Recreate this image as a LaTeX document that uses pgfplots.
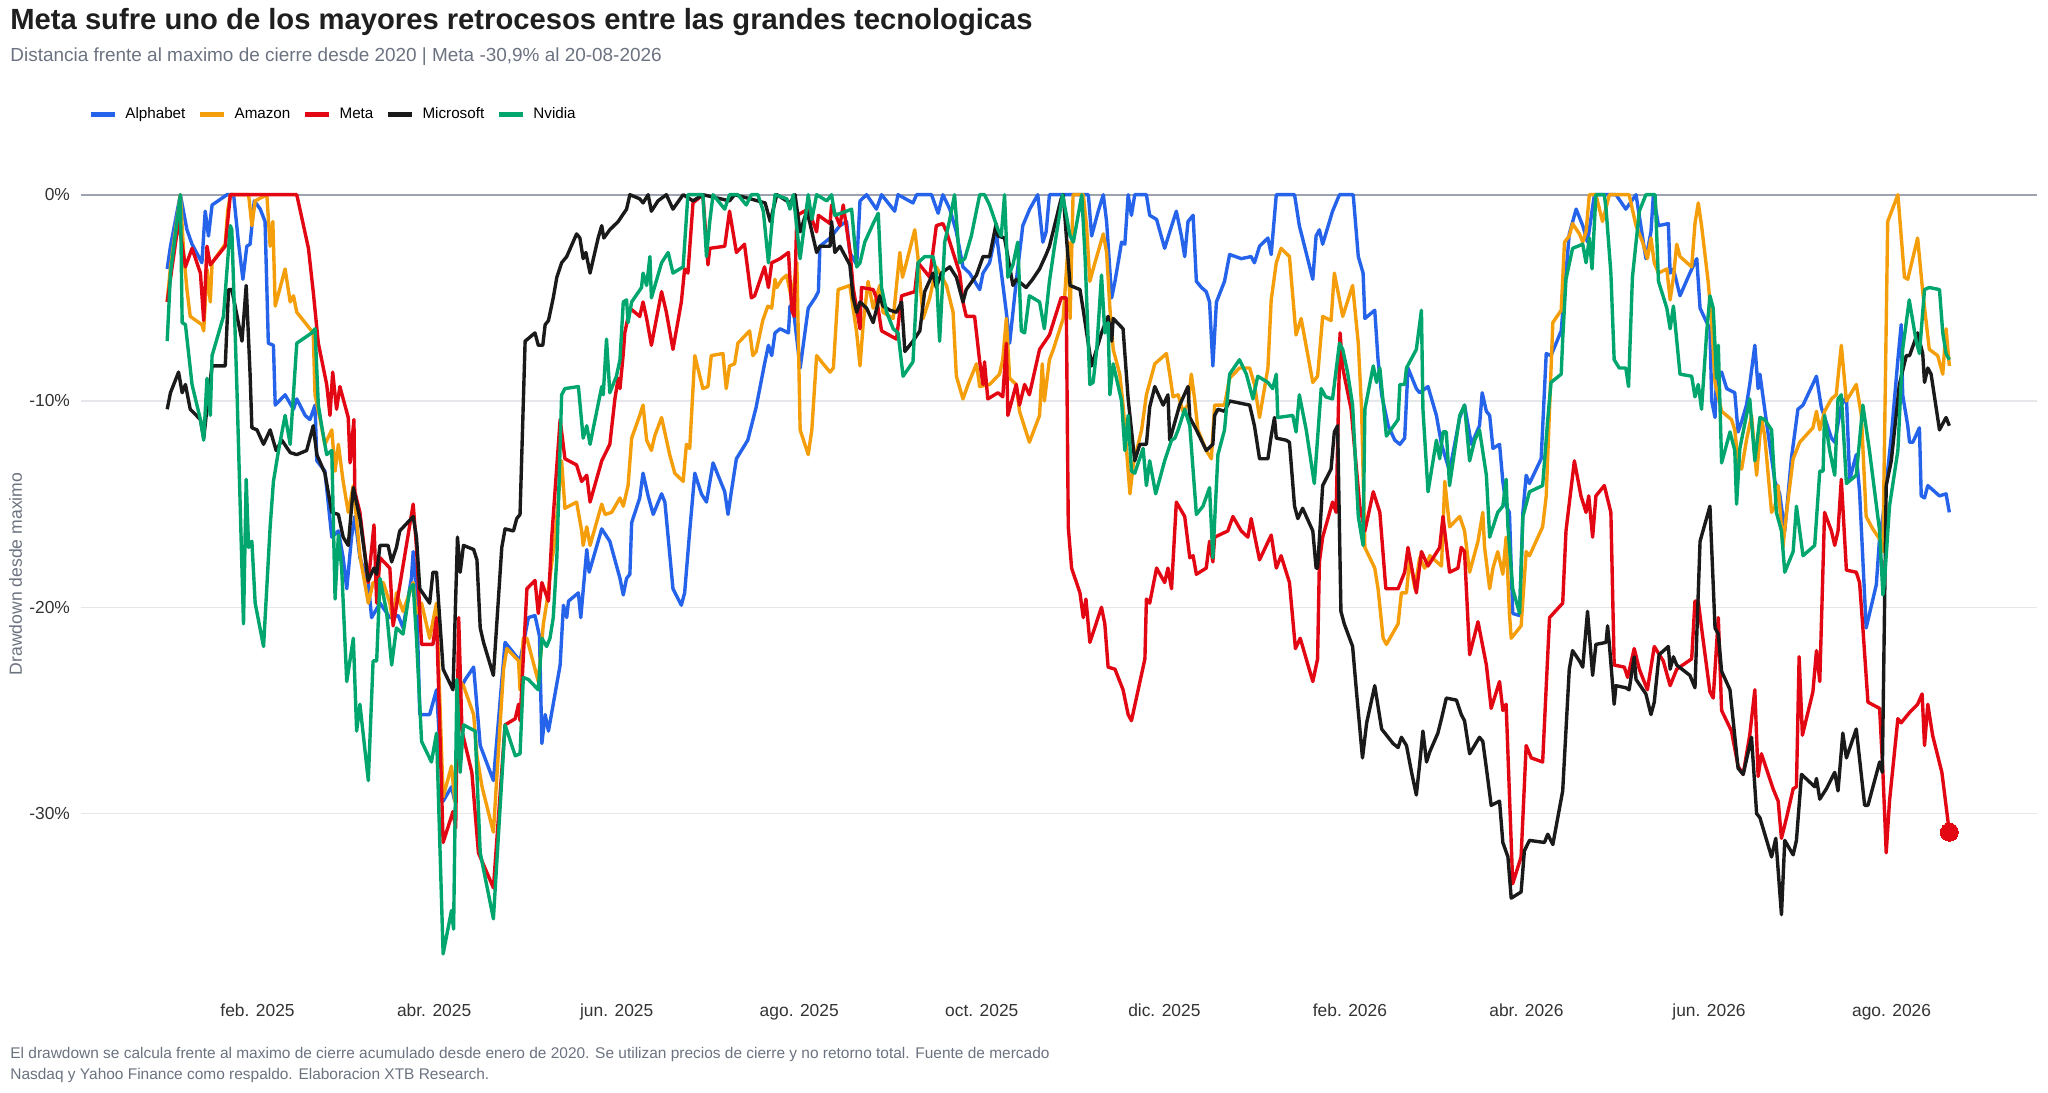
\documentclass[border=0pt]{standalone}
\usepackage{pgfplots}
\pgfplotsset{compat=1.18}
\usepackage{fontspec}
\setmainfont{Liberation Sans}
\definecolor{cAlph}{RGB}{37,99,235}
\definecolor{cAmzn}{RGB}{245,158,11}
\definecolor{cMeta}{RGB}{227,6,19}
\definecolor{cMsft}{RGB}{26,26,26}
\definecolor{cNvda}{RGB}{0,166,110}
\definecolor{cGrid}{RGB}{229,231,235}
\definecolor{cZero}{RGB}{156,163,175}
\definecolor{cSub}{RGB}{107,114,128}
\definecolor{cTitle}{RGB}{31,31,31}
\definecolor{cTick}{RGB}{51,51,51}
\begin{document}
\begin{tikzpicture}
\useasboundingbox (0,0) rectangle (1024pt,546pt);
\node[anchor=base west, inner sep=0pt, font=\fontsize{14.6}{17}\selectfont\bfseries, text=cTitle] at (5pt,531pt) {Meta sufre uno de los mayores retrocesos entre las grandes tecnologicas};
\node[anchor=base west, inner sep=0pt, font=\fontsize{9.47}{11}\selectfont, text=cSub] at (5pt,515pt) {Distancia frente al maximo de cierre desde 2020 | Meta -30,9\% al 20-08-2026};
\node[anchor=base west, inner sep=0pt, font=\fontsize{7.73}{9}\selectfont, text=cSub] at (5pt,17pt) {El drawdown se calcula frente al maximo de cierre acumulado desde enero de 2020. Se utilizan precios de cierre y no retorno total. Fuente de mercado};
\node[anchor=base west, inner sep=0pt, font=\fontsize{7.73}{9}\selectfont, text=cSub] at (5pt,6.5pt) {Nasdaq y Yahoo Finance como respaldo. Elaboracion XTB Research.};
\node[rotate=90, inner sep=0pt, font=\fontsize{8.8}{10}\selectfont, text=cSub] at (7.8pt,259pt) {Drawdown desde maximo};
\begin{axis}[
  at={(40.5pt,50.5pt)}, anchor=south west,
  width=978pt, height=406.4pt, scale only axis,
  xmin=-28, xmax=625.6, ymin=-38.6, ymax=0.8,
  axis line style={draw=none},
  major tick length=0pt,
  xtick={31,90,151,212,273,334,396,455,516,577},
  xticklabels={feb. 2025,abr. 2025,jun. 2025,ago. 2025,oct. 2025,dic. 2025,feb. 2026,abr. 2026,jun. 2026,ago. 2026},
  ytick={-30,-20,-10},
  yticklabels={-30\%,-20\%,-10\%},
  extra y ticks={0}, extra y tick labels={0\%},
  extra y tick style={ymajorgrids=true, major grid style={cZero, line width=1pt}},
  ymajorgrids, major grid style={cGrid, line width=0.6pt},
  tick label style={font=\fontsize{8.7}{10}\selectfont, text=cTick},
  xticklabel style={yshift=-3pt},
  yticklabel style={xshift=-2pt},
  legend columns=5,
  legend style={at={(axis description cs:0.0037,1.078)}, anchor=west, draw=none, fill=none,
    font=\fontsize{7.6}{9}\selectfont, inner sep=0pt, nodes={inner sep=0pt},
    /tikz/every odd column/.append style={column sep=4pt},
    /tikz/every even column/.append style={column sep=6.2pt}},
  legend image code/.code={\draw[#1, line width=2.4pt] (0pt,0pt) -- (12pt,0pt);},
  every axis plot/.append style={line width=1.7pt, line join=round, mark=none},
]
% Alphabet
\addplot[cAlph] coordinates {(0.8,-3.6)(1.9,-2.5)(5.2,0)(7.4,-1.7)(9.1,-2.4)(12.4,-3.3)(13.5,-0.8)(14.6,-2.0)(15.8,-0.5)(20.8,0)(23.0,0)(24.6,-2.3)(26.1,-4.1)(27.4,-2.5)(28.5,-2.4)(29.9,-0.3)(31.9,-0.7)(33.5,-1.3)(34.6,-7.2)(36.3,-7.3)(36.9,-10.2)(40.2,-9.7)(43.0,-10.4)(44.1,-9.9)(46.9,-10.7)(48.5,-10.9)(50.2,-10.2)(50.8,-12.9)(53.5,-13.4)(55.8,-16.6)(58.0,-16.3)(59.6,-17.6)(60.8,-19.1)(62.4,-16.6)(63.5,-15.6)(65.2,-17.6)(68.0,-18.8)(69.1,-20.5)(71.9,-19.8)(75.2,-20.5)(78.0,-20.4)(79.6,-21.0)(82.4,-18.6)(83.0,-17.3)(84.1,-19.3)(85.2,-25.2)(88.5,-25.2)(90.8,-24.0)(93.0,-29.4)(95.8,-28.7)(96.9,-29.4)(98.7,-24.0)(100.4,-23.5)(103.2,-22.9)(105.4,-26.7)(109.8,-28.4)(113.7,-21.7)(118.7,-22.6)(121.5,-20.5)(123.7,-20.4)(125.2,-21.4)(126.0,-26.6)(127.1,-25.2)(128.2,-26.0)(132.1,-22.8)(133.2,-19.9)(134.3,-20.5)(134.9,-19.7)(138.2,-19.3)(139.0,-20.5)(141.0,-17.2)(141.8,-18.3)(146.0,-16.2)(148.7,-16.8)(152.1,-18.6)(153.2,-19.4)(154.3,-18.6)(155.4,-18.4)(156.0,-15.9)(158.7,-14.7)(159.8,-13.5)(161.5,-14.6)(163.2,-15.5)(166.0,-14.5)(167.1,-14.9)(169.8,-19.1)(172.6,-19.9)(173.7,-19.3)(175.4,-16.3)(177.1,-13.5)(179.3,-14.5)(181.0,-14.9)(183.2,-13.0)(187.1,-14.4)(188.2,-15.5)(189.3,-14.4)(191.0,-12.8)(194.8,-11.9)(197.6,-10.3)(200.4,-8.2)(201.7,-7.3)(202.8,-7.8)(203.9,-6.7)(205.6,-6.5)(208.4,-6.7)(208.9,-5.4)(210.0,-5.5)(212.3,-8.4)(215.0,-5.5)(217.3,-5.0)(218.4,-4.7)(218.9,-2.5)(222.3,-2.1)(225.6,-1.5)(227.8,-1.3)(228.9,-2.8)(231.2,-3.4)(232.3,-0.3)(234.5,0)(237.8,-0.7)(239.5,0)(243.9,-0.8)(245.0,0)(250.0,-0.4)(251.2,0)(256.2,0)(258.4,-0.9)(260.0,0)(262.3,-0.7)(264.5,-1.8)(266.7,-3.5)(268.9,-3.8)(272.3,-4.6)(273.4,-3.8)(275.6,-3.3)(277.8,-1.8)(281.2,-5.7)(282.3,-7.2)(284.5,-4.2)(286.7,-1.5)(289.0,-0.7)(291.7,0)(293.4,-2.3)(294.5,-1.8)(295.6,0)(308.6,0)(309.7,-2.0)(311.9,-0.8)(313.6,0)(314.7,-1.3)(316.4,-5.0)(317.5,-4.2)(319.7,-2.3)(320.8,-2.4)(321.9,0)(323.0,-1.0)(324.1,0)(328.0,0)(329.1,-1.0)(331.4,-1.2)(334.1,-2.6)(335.8,-1.8)(338.0,-0.8)(339.7,-2.0)(340.8,-3.0)(341.9,-1.3)(343.6,-1.0)(344.7,-4.2)(346.4,-4.5)(348.0,-4.7)(349.1,-5.2)(350.2,-8.3)(351.4,-5.2)(354.1,-4.2)(355.8,-2.9)(359.7,-3.1)(363.0,-3.0)(364.1,-3.3)(365.8,-2.5)(368.6,-2.1)(369.7,-2.9)(371.4,0)(377.5,0)(379.1,-1.5)(383.6,-4.1)(384.7,-2.0)(385.8,-1.7)(386.9,-2.4)(390.2,-0.8)(392.5,0)(397.1,0)(398.8,-3.0)(400.4,-3.8)(401.0,-6.0)(404.3,-5.6)(405.4,-8.0)(406.6,-9.7)(408.8,-11.2)(411.0,-11.9)(412.7,-12.1)(414.3,-11.8)(415.4,-8.4)(418.2,-9.4)(419.3,-9.6)(422.1,-9.3)(424.9,-10.7)(426.6,-12.1)(429.3,-13.4)(432.7,-10.8)(434.3,-10.2)(436.6,-12.1)(439.3,-11.2)(440.2,-9.6)(441.6,-10.5)(442.7,-10.7)(443.8,-12.3)(446.0,-12.1)(447.1,-13.9)(448.2,-15.1)(449.3,-15.4)(450.4,-20.3)(452.7,-20.4)(453.8,-15.4)(454.9,-13.6)(456.0,-14.0)(459.9,-12.8)(461.6,-7.7)(463.2,-7.8)(466.6,-6.6)(468.2,-3.8)(469.3,-1.9)(471.6,-0.7)(473.8,-1.5)(475.4,-2.3)(477.7,0)(484.9,0)(488.2,-0.7)(491.6,0)(494.9,-3.1)(496.6,-1.8)(497.4,0)(499.1,-1.5)(502.4,-1.4)(503.0,-3.8)(504.1,-3.6)(506.3,-4.9)(509.6,-3.8)(511.9,-3.1)(513.0,-5.5)(514.6,-6.0)(516.3,-6.5)(516.9,-10.0)(518.0,-10.8)(518.5,-8.7)(520.2,-8.6)(521.9,-9.4)(524.6,-9.6)(525.7,-11.5)(526.9,-11.0)(528.5,-10.2)(529.6,-9.2)(531.3,-7.3)(532.4,-9.4)(533.0,-8.7)(534.6,-10.4)(538.0,-13.9)(539.6,-14.5)(541.3,-16.3)(543.5,-12.8)(545.7,-10.4)(547.4,-10.2)(551.9,-8.8)(553.5,-10.3)(556.9,-11.8)(558.0,-12.0)(560.2,-10.2)(561.9,-9.8)(563.0,-13.8)(565.2,-12.6)(566.3,-14.4)(568.5,-21.0)(571.9,-18.9)(573.0,-16.6)(574.1,-15.6)(576.9,-11.7)(579.1,-8.0)(580.2,-6.3)(580.7,-9.7)(582.4,-11.2)(583.0,-12.0)(584.1,-12.0)(586.3,-11.3)(586.9,-14.6)(588.0,-14.7)(589.1,-14.1)(593.0,-14.6)(595.2,-14.5)(596.3,-15.4)};
\addlegendentry{Alphabet}
% Amazon
\addplot[cAmzn] coordinates {(0.8,-5.2)(1.9,-3.5)(5.2,0)(6.3,-2.8)(7.4,-4.6)(8.5,-5.9)(12.4,-6.3)(13.0,-6.6)(14.1,-3.6)(15.2,-5.2)(15.8,-3.3)(20.2,-2.4)(21.0,-0.8)(21.9,0)(28.0,0)(29.1,-1.5)(30.2,-0.3)(34.1,0)(35.2,-2.5)(36.1,-1.3)(36.9,-5.4)(40.2,-3.6)(41.9,-5.2)(43.0,-4.9)(44.1,-5.7)(47.4,-6.3)(49.6,-6.7)(50.2,-9.7)(51.9,-10.9)(53.5,-12.1)(55.8,-11.4)(56.9,-13.4)(58.0,-12.1)(59.6,-13.9)(61.3,-15.4)(63.0,-14.1)(65.2,-17.5)(68.0,-19.8)(69.6,-18.8)(73.0,-18.8)(75.2,-19.8)(76.3,-20.8)(77.4,-19.3)(79.6,-20.2)(83.0,-18.8)(84.1,-20.3)(85.8,-19.8)(88.5,-21.5)(90.8,-19.8)(93.0,-29.2)(95.8,-27.7)(96.9,-29.4)(98.7,-23.6)(99.8,-23.8)(103.2,-25.2)(104.3,-27.2)(106.0,-28.7)(109.8,-30.9)(113.2,-23.0)(114.3,-22.0)(118.2,-22.6)(118.7,-24.0)(119.8,-21.5)(121.0,-21.5)(124.8,-23.6)(126.5,-20.8)(127.6,-19.8)(130.4,-16.6)(132.6,-12.9)(133.7,-15.2)(137.6,-14.9)(139.3,-16.3)(139.8,-17.0)(141.0,-16.1)(142.1,-17.0)(146.0,-15.0)(147.1,-15.5)(149.3,-15.4)(152.1,-14.7)(153.2,-15.1)(154.8,-14.1)(156.0,-11.8)(158.7,-10.7)(159.8,-10.2)(161.0,-11.9)(162.6,-12.4)(163.7,-11.7)(166.0,-10.8)(168.7,-12.6)(170.4,-13.5)(173.2,-13.9)(174.3,-12.1)(175.4,-12.3)(177.1,-7.8)(179.8,-9.4)(181.5,-9.3)(182.6,-7.8)(186.5,-7.7)(187.6,-9.4)(188.7,-8.3)(190.4,-8.2)(191.5,-7.2)(195.4,-6.6)(196.5,-7.8)(197.6,-7.6)(199.8,-6.1)(201.5,-5.4)(202.8,-5.5)(203.9,-4.1)(204.5,-4.5)(206.2,-4.1)(207.8,-3.9)(209.5,-5.1)(211.2,-3.3)(212.3,-11.4)(215.0,-12.6)(216.2,-11.4)(217.8,-7.8)(220.0,-8.2)(222.3,-8.6)(223.4,-8.4)(225.0,-4.6)(228.9,-4.4)(230.0,-5.5)(231.2,-6.7)(232.3,-8.3)(233.4,-6.2)(235.0,-4.2)(236.7,-5.5)(238.9,-4.4)(240.0,-5.7)(243.4,-6.0)(245.6,-2.8)(246.5,-4.0)(247.8,-3.3)(250.6,-1.7)(251.7,-3.1)(253.4,-6.0)(255.6,-5.0)(257.8,-3.5)(261.2,-4.4)(263.4,-5.7)(264.5,-8.8)(266.7,-9.9)(268.4,-9.2)(271.2,-8.2)(272.3,-9.3)(275.6,-9.2)(278.9,-8.7)(280.0,-8.0)(281.2,-6.0)(282.3,-8.9)(284.5,-9.2)(285.6,-10.5)(288.9,-12.0)(292.3,-10.7)(293.2,-8.2)(293.9,-10.0)(295.6,-8.0)(296.9,-7.5)(300.2,-6.0)(301.9,-2.3)(302.5,-6.0)(303.5,0)(306.9,0)(308.0,-1.5)(309.1,-4.2)(310.8,-3.3)(313.6,-1.9)(314.7,-2.8)(315.8,-5.5)(316.9,-7.5)(319.1,-8.7)(320.2,-10.2)(322.5,-14.5)(323.6,-13.1)(326.4,-11.4)(328.0,-9.7)(330.8,-8.2)(334.7,-7.7)(335.8,-8.7)(336.9,-9.8)(338.6,-9.7)(340.2,-10.5)(341.9,-10.2)(343.0,-8.7)(344.1,-9.9)(345.2,-11.4)(348.0,-12.4)(349.7,-12.8)(350.8,-10.2)(354.1,-10.2)(355.8,-8.9)(359.1,-8.4)(362.5,-8.4)(364.1,-9.2)(365.8,-10.8)(368.6,-8.4)(369.7,-5.1)(371.4,-3.3)(373.0,-2.6)(375.8,-3.0)(378.0,-6.8)(379.7,-6.0)(383.6,-9.1)(385.2,-8.8)(386.9,-5.9)(389.7,-6.1)(390.8,-3.8)(393.6,-5.9)(396.9,-4.4)(398.8,-7.2)(399.9,-10.4)(401.0,-17.1)(404.3,-18.1)(405.4,-19.1)(407.1,-21.5)(408.2,-21.8)(412.1,-20.8)(413.2,-19.3)(414.9,-19.3)(416.0,-17.6)(417.7,-19.1)(419.3,-17.6)(421.0,-18.1)(422.7,-17.5)(426.6,-18.0)(427.7,-13.9)(429.3,-16.1)(432.7,-15.6)(434.3,-16.3)(436.0,-18.3)(438.8,-16.8)(440.4,-15.4)(441.0,-17.1)(442.7,-19.1)(443.8,-18.1)(445.4,-17.3)(447.1,-18.4)(448.2,-16.6)(449.3,-20.3)(449.9,-21.5)(453.2,-20.9)(454.9,-17.3)(456.0,-17.5)(460.4,-16.1)(461.6,-14.6)(462.7,-10.4)(463.8,-6.2)(466.6,-5.6)(467.7,-2.3)(469.3,-2.0)(470.4,-1.4)(472.7,-1.9)(473.8,-2.3)(474.9,-1.8)(476.0,0)(478.2,0)(480.4,-1.3)(482.7,0)(489.3,0)(491.6,-1.5)(493.8,-2.3)(495.4,-3.1)(496.6,-2.1)(497.7,-3.3)(499.1,-3.8)(501.9,-3.6)(503.0,-5.1)(504.1,-4.0)(505.2,-2.4)(506.3,-3.0)(510.2,-3.5)(511.3,-1.4)(512.4,-0.4)(513.5,-1.5)(515.7,-4.2)(516.9,-6.2)(518.0,-9.1)(520.2,-10.5)(523.5,-10.9)(524.6,-11.4)(525.7,-13.0)(526.9,-13.3)(528.5,-11.9)(530.2,-10.7)(531.9,-13.6)(533.5,-10.8)(534.6,-11.7)(536.9,-15.4)(538.0,-15.1)(539.1,-14.1)(540.7,-17.1)(541.9,-15.4)(544.1,-12.8)(546.3,-12.0)(550.7,-11.3)(551.9,-10.5)(553.0,-11.4)(554.6,-10.5)(556.9,-9.9)(558.5,-9.7)(560.2,-7.3)(561.9,-10.0)(565.2,-9.2)(566.9,-10.7)(568.5,-15.6)(570.7,-16.2)(573.5,-16.8)(574.1,-17.3)(575.7,-1.3)(579.1,0)(581.3,-4.0)(582.4,-4.1)(585.7,-2.1)(587.4,-4.7)(589.6,-7.5)(592.4,-7.8)(594.1,-8.7)(595.2,-6.5)(596.3,-8.3)};
\addlegendentry{Amazon}
% Meta
\addplot[cMeta] coordinates {(0.8,-5.2)(4.6,-1.3)(6.9,-3.5)(9.1,-2.6)(11.9,-3.8)(13.0,-6.1)(14.1,-2.5)(15.2,-3.4)(20.2,-2.5)(21.9,0)(44.1,0)(48.0,-2.6)(49.6,-4.7)(51.3,-7.2)(54.1,-9.2)(55.2,-10.7)(56.1,-8.6)(57.4,-10.4)(58.5,-9.3)(61.3,-10.8)(61.9,-13.0)(63.2,-10.9)(63.5,-14.4)(65.2,-15.4)(68.0,-18.8)(69.9,-16.0)(70.8,-19.8)(71.9,-17.6)(75.2,-18.1)(76.3,-20.9)(83.0,-15.0)(84.1,-17.1)(85.8,-21.8)(89.6,-21.8)(90.8,-20.5)(93.0,-31.4)(96.3,-29.9)(97.2,-30.7)(98.2,-20.5)(99.3,-26.0)(102.6,-28.0)(104.8,-31.9)(109.8,-33.6)(113.7,-25.7)(117.1,-25.4)(118.2,-24.7)(118.7,-25.5)(121.0,-19.1)(123.7,-18.7)(124.8,-20.3)(126.0,-18.8)(128.2,-19.7)(129.3,-16.6)(132.1,-10.9)(133.7,-12.8)(137.6,-13.1)(139.3,-13.9)(141.0,-13.6)(142.1,-14.9)(146.0,-12.9)(148.7,-12.1)(150.4,-9.9)(151.5,-8.9)(152.1,-9.4)(153.2,-7.7)(153.7,-6.7)(155.4,-5.5)(158.7,-5.9)(159.8,-5.2)(161.0,-6.0)(162.6,-7.3)(166.0,-4.7)(167.6,-5.7)(169.8,-7.5)(172.6,-5.2)(173.7,-3.6)(174.8,-3.8)(176.5,-0.4)(179.8,0)(181.5,-3.4)(182.1,-2.6)(187.1,-2.5)(188.7,-0.8)(191.0,-2.8)(193.7,-2.4)(196.0,-5.0)(197.1,-4.9)(200.4,-3.5)(201.7,-4.5)(202.8,-3.3)(205.6,-3.1)(208.4,-2.8)(209.5,-5.6)(210.3,-5.9)(211.2,-1.0)(215.0,-0.7)(217.8,-1.8)(218.4,-1.0)(222.3,-1.4)(222.8,-0.5)(225.6,-1.5)(226.7,-0.5)(229.0,-2.8)(230.0,-4.5)(232.3,-6.5)(232.8,-4.5)(236.7,-4.6)(237.8,-5.0)(239.5,-6.6)(244.5,-7.0)(246.2,-4.9)(250.6,-4.7)(251.7,-3.3)(255.6,-4.0)(257.8,-1.5)(260.0,-1.4)(261.2,-1.8)(265.6,-3.8)(266.7,-5.2)(267.8,-5.9)(270.6,-5.9)(272.3,-8.1)(273.4,-9.2)(273.9,-8.1)(275.0,-9.9)(278.4,-9.6)(280.0,-9.8)(281.2,-7.2)(281.7,-10.7)(284.5,-9.2)(285.6,-10.2)(287.3,-9.2)(288.9,-9.7)(292.3,-7.5)(295.6,-6.8)(299.5,-5.0)(301.2,-5.0)(301.9,-16.1)(303.0,-18.1)(305.8,-19.3)(306.9,-20.5)(307.8,-19.6)(309.1,-21.7)(313.0,-20.0)(314.1,-20.8)(315.2,-22.9)(317.5,-23.0)(320.2,-24.0)(321.9,-25.2)(323.0,-25.5)(327.5,-22.5)(328.0,-19.6)(329.1,-19.8)(331.4,-18.1)(334.1,-18.8)(335.2,-18.1)(336.4,-19.1)(338.0,-14.9)(340.8,-15.6)(342.5,-17.6)(343.6,-17.5)(344.7,-18.4)(348.0,-18.1)(349.1,-16.8)(350.2,-17.8)(350.8,-16.6)(355.2,-16.3)(356.9,-15.6)(359.7,-16.3)(361.9,-16.6)(363.0,-15.7)(365.8,-17.7)(369.7,-16.5)(371.4,-18.1)(373.0,-17.5)(375.8,-18.8)(377.8,-22.0)(379.4,-21.5)(383.6,-23.6)(385.2,-22.5)(385.8,-17.8)(386.9,-16.6)(390.2,-14.9)(391.4,-15.4)(392.7,-6.7)(393.6,-8.4)(396.4,-10.4)(399.3,-15.1)(401.0,-16.3)(403.8,-14.4)(406.0,-15.4)(408.0,-19.1)(412.1,-19.1)(414.3,-18.3)(415.4,-17.1)(418.2,-19.3)(419.9,-17.3)(422.1,-18.0)(426.0,-17.1)(427.1,-15.6)(429.3,-18.3)(432.1,-18.1)(433.2,-17.1)(434.3,-17.3)(436.0,-22.3)(438.8,-20.7)(441.6,-22.8)(443.2,-24.9)(446.0,-23.6)(447.1,-25.0)(448.2,-24.7)(450.4,-33.4)(453.2,-32.1)(454.9,-26.7)(456.6,-27.3)(460.4,-27.5)(462.7,-20.5)(467.1,-19.8)(468.2,-16.3)(471.0,-12.9)(473.2,-14.6)(474.9,-15.4)(475.8,-14.6)(477.1,-16.6)(478.2,-14.6)(481.0,-14.1)(483.2,-15.4)(484.3,-22.8)(487.7,-22.9)(488.8,-23.4)(491.0,-22.0)(492.7,-23.0)(495.4,-24.0)(497.7,-21.9)(500.7,-22.6)(503.0,-23.8)(505.2,-23.0)(510.2,-22.5)(511.3,-19.7)(512.4,-19.7)(513.5,-21.0)(516.3,-24.1)(517.4,-24.4)(519.1,-20.5)(520.2,-25.0)(523.5,-26.0)(525.7,-27.7)(527.4,-28.1)(529.6,-26.2)(531.3,-24.0)(532.4,-28.2)(533.5,-27.1)(537.4,-28.8)(539.1,-29.4)(540.2,-31.2)(541.9,-30.2)(544.1,-28.8)(545.2,-28.7)(546.1,-22.4)(547.2,-26.2)(550.7,-24.1)(551.9,-22.1)(553.0,-23.6)(554.6,-15.4)(556.9,-16.3)(558.0,-17.0)(559.1,-16.3)(560.2,-13.8)(561.9,-18.2)(565.2,-18.3)(566.3,-18.8)(567.4,-21.0)(569.1,-24.6)(573.0,-24.9)(574.1,-28.0)(575.2,-31.9)(576.3,-29.4)(579.1,-25.4)(580.2,-25.6)(583.0,-25.1)(585.7,-24.7)(587.2,-24.2)(588.0,-26.7)(589.1,-24.7)(590.7,-26.2)(593.8,-28.0)(596.3,-30.9)};
\addlegendentry{Meta}
% Microsoft
\addplot[cMsft] coordinates {(0.8,-10.4)(1.9,-9.6)(4.6,-8.6)(5.8,-9.6)(6.9,-9.2)(8.5,-10.4)(11.9,-10.9)(13.0,-11.8)(14.6,-9.7)(15.8,-8.3)(20.2,-8.3)(21.3,-4.6)(22.4,-4.6)(25.8,-7.1)(27.2,-4.4)(28.5,-8.7)(29.1,-11.3)(30.8,-11.4)(33.0,-12.1)(35.2,-11.4)(37.2,-12.4)(39.1,-11.9)(41.9,-12.5)(44.1,-12.6)(47.4,-12.4)(49.6,-11.2)(50.8,-12.6)(53.5,-13.5)(55.8,-15.4)(58.0,-15.5)(59.6,-16.6)(61.3,-17.0)(63.0,-14.2)(65.2,-15.7)(68.0,-18.7)(69.9,-18.1)(70.8,-18.4)(71.9,-17.0)(74.6,-17.0)(75.8,-17.8)(77.4,-17.1)(78.5,-16.3)(83.0,-15.6)(84.1,-16.6)(85.2,-19.1)(88.5,-19.8)(89.6,-18.3)(90.8,-18.3)(93.0,-23.0)(96.3,-24.0)(97.8,-16.6)(98.7,-18.3)(99.8,-17.0)(103.2,-17.2)(104.3,-17.7)(105.4,-21.0)(106.5,-21.7)(109.8,-23.3)(112.6,-17.1)(113.7,-16.2)(116.5,-16.3)(117.6,-15.7)(118.7,-15.5)(120.4,-7.1)(123.7,-6.7)(124.8,-7.3)(126.3,-7.3)(127.1,-6.3)(128.2,-6.1)(129.8,-5.0)(131.0,-4.0)(132.6,-3.3)(134.3,-3.0)(137.6,-1.9)(138.7,-2.1)(139.8,-3.1)(140.7,-2.8)(142.1,-3.8)(144.8,-2.1)(146.0,-1.5)(146.7,-2.1)(148.7,-1.7)(151.5,-1.3)(154.3,-0.7)(155.4,0)(158.7,-0.2)(159.8,-0.4)(161.5,0)(162.6,-0.8)(164.8,-0.3)(167.6,0)(169.8,-0.7)(173.2,0)(176.5,-0.3)(179.8,0)(188.7,-0.3)(190.4,0)(195.6,-0.2)(200.6,-0.4)(202.3,-1.3)(204.5,0)(208.9,-0.4)(210.6,0)(212.3,-1.8)(214.5,-0.8)(215.6,-1.4)(217.8,-2.8)(218.9,-2.5)(222.3,-2.5)(222.8,-1.3)(223.9,-2.8)(225.6,-2.5)(228.9,-3.4)(230.0,-5.0)(231.2,-5.7)(232.3,-5.2)(234.5,-5.5)(236.7,-6.2)(238.9,-4.9)(240.0,-5.4)(242.3,-5.6)(244.5,-5.7)(246.2,-5.2)(247.3,-7.6)(250.0,-7.1)(252.3,-6.6)(253.9,-4.7)(256.7,-3.8)(257.8,-4.5)(259.5,-3.8)(262.3,-3.5)(264.5,-4.0)(266.7,-5.2)(267.8,-4.6)(271.2,-3.9)(273.4,-3.0)(275.6,-3.0)(277.8,-1.4)(278.4,-2.0)(280.6,-2.1)(281.7,-3.0)(283.4,-4.4)(284.5,-4.1)(287.8,-4.5)(290.0,-4.1)(292.3,-3.6)(294.5,-2.9)(295.6,-2.5)(299.5,-0.2)(300.2,0)(302.5,-4.4)(305.8,-4.6)(306.9,-5.6)(309.7,-8.3)(313.0,-6.7)(315.2,-5.9)(316.4,-7.1)(316.9,-6.0)(320.2,-6.5)(321.9,-9.9)(324.1,-12.9)(325.8,-12.1)(328.0,-12.1)(329.1,-10.3)(330.8,-9.3)(333.6,-10.2)(335.2,-9.7)(335.8,-11.9)(339.1,-10.2)(341.9,-9.3)(342.5,-10.8)(344.7,-11.4)(348.0,-12.4)(350.2,-12.1)(350.8,-10.7)(351.9,-10.4)(354.1,-10.5)(355.8,-10.0)(362.5,-10.2)(364.1,-11.2)(365.8,-12.8)(368.6,-12.8)(369.7,-11.7)(370.8,-10.8)(371.4,-11.8)(374.7,-11.9)(375.8,-12.0)(377.5,-15.1)(378.6,-15.7)(380.2,-15.2)(383.6,-16.3)(384.7,-18.1)(385.2,-18.1)(386.9,-14.1)(389.7,-13.3)(390.8,-11.5)(391.9,-11.2)(393.0,-20.2)(394.1,-20.8)(396.9,-21.9)(398.2,-24.1)(400.2,-27.3)(401.6,-25.6)(404.3,-23.8)(406.6,-25.9)(410.4,-26.6)(412.1,-26.8)(413.2,-26.3)(414.9,-26.7)(416.6,-28.0)(418.2,-29.1)(419.3,-27.6)(420.4,-26.0)(421.6,-27.5)(422.7,-27.0)(425.4,-26.1)(426.6,-25.4)(428.2,-24.4)(431.6,-24.5)(433.2,-25.2)(434.3,-25.5)(436.0,-27.1)(439.3,-26.3)(440.4,-26.5)(441.6,-27.8)(443.2,-29.6)(446.0,-29.4)(447.1,-31.4)(448.8,-32.1)(449.9,-34.1)(453.2,-33.8)(454.3,-31.8)(456.0,-31.3)(461.0,-31.4)(462.1,-31.0)(463.8,-31.5)(467.1,-28.9)(469.3,-23.0)(470.4,-22.1)(472.7,-22.6)(473.8,-22.9)(475.4,-20.2)(477.1,-23.3)(478.2,-21.8)(481.6,-21.7)(482.1,-20.9)(482.7,-21.8)(484.3,-24.7)(484.9,-23.8)(488.2,-23.9)(489.3,-24.0)(491.0,-22.4)(491.6,-23.5)(494.9,-24.2)(496.6,-25.2)(497.7,-24.6)(499.3,-22.3)(502.4,-21.9)(503.0,-23.0)(504.1,-22.4)(505.2,-22.8)(509.6,-23.3)(511.3,-23.9)(513.0,-16.8)(516.3,-15.1)(518.0,-21.0)(519.1,-21.3)(520.2,-23.1)(523.0,-24.0)(525.7,-27.8)(527.4,-28.1)(530.2,-26.3)(531.9,-30.0)(533.0,-30.2)(536.9,-32.1)(538.3,-31.2)(540.2,-34.9)(541.3,-31.3)(544.1,-32.0)(545.2,-31.3)(546.9,-28.1)(551.3,-28.7)(551.9,-28.3)(553.0,-29.3)(555.2,-28.8)(558.0,-28.0)(559.1,-28.9)(560.7,-26.1)(561.9,-27.3)(565.2,-25.9)(568.0,-29.6)(569.1,-29.6)(573.0,-27.5)(573.9,-28.0)(575.2,-14.1)(576.9,-12.9)(579.6,-9.2)(581.9,-7.8)(583.0,-7.8)(585.7,-6.7)(587.4,-7.7)(588.0,-9.1)(589.1,-8.4)(590.2,-8.7)(593.0,-11.4)(595.2,-10.8)(596.3,-11.2)};
\addlegendentry{Microsoft}
% Nvidia
\addplot[cNvda] coordinates {(0.8,-7.1)(1.9,-3.8)(5.2,0)(5.8,-6.2)(6.9,-6.3)(9.1,-9.2)(11.9,-10.9)(13.0,-11.9)(14.1,-8.9)(15.2,-10.7)(15.8,-7.8)(19.6,-5.9)(21.9,-1.5)(22.4,-1.7)(24.1,-9.4)(25.2,-15.1)(26.3,-20.8)(27.2,-13.8)(28.0,-17.1)(29.1,-16.8)(30.2,-19.8)(33.0,-21.9)(35.2,-16.1)(36.3,-13.9)(38.0,-12.4)(40.2,-10.7)(41.9,-12.1)(44.1,-7.2)(49.1,-6.7)(50.2,-6.5)(51.3,-10.2)(53.0,-11.7)(54.1,-12.6)(55.8,-12.4)(56.9,-19.6)(58.0,-16.5)(59.1,-18.1)(60.8,-23.6)(63.0,-21.5)(64.1,-26.0)(65.2,-24.7)(68.0,-28.4)(69.6,-22.6)(70.8,-22.6)(71.9,-18.6)(74.1,-20.2)(75.8,-22.8)(77.4,-21.0)(79.6,-21.3)(81.9,-19.1)(83.0,-18.9)(84.1,-21.5)(85.8,-26.5)(89.1,-27.5)(90.8,-26.1)(93.0,-36.8)(95.8,-34.7)(96.5,-35.6)(97.6,-23.5)(98.7,-28.0)(99.8,-25.7)(103.7,-26.0)(105.4,-31.9)(109.8,-35.1)(113.7,-25.7)(117.1,-27.2)(118.7,-27.1)(119.8,-23.4)(121.5,-23.5)(124.8,-24.0)(126.0,-21.5)(127.6,-21.9)(128.7,-21.5)(129.8,-20.5)(131.0,-17.6)(132.6,-9.7)(133.7,-9.4)(138.2,-9.3)(139.8,-11.8)(141.0,-11.2)(142.1,-12.1)(146.0,-9.3)(146.5,-9.7)(147.6,-7.0)(148.7,-9.6)(150.9,-8.8)(152.1,-8.0)(153.2,-5.2)(154.3,-5.1)(154.8,-6.2)(156.0,-5.2)(159.3,-4.5)(159.8,-3.8)(161.0,-4.4)(162.1,-3.0)(162.6,-5.0)(166.0,-3.3)(168.2,-2.8)(169.8,-3.8)(173.2,-3.5)(174.8,0)(179.8,0)(181.0,-3.0)(182.1,-1.3)(183.2,0)(187.1,-0.7)(188.7,0)(191.5,0)(194.3,-0.5)(196.0,0)(198.2,0)(200.0,-0.8)(201.7,-3.3)(202.8,-1.5)(203.9,0)(207.8,-0.2)(208.9,-0.7)(210.0,0)(212.3,-3.1)(215.0,0)(216.2,-1.2)(217.8,0)(221.2,-0.3)(222.8,0)(223.9,-1.0)(227.8,-0.8)(229.5,-0.7)(231.2,-3.5)(232.3,-3.3)(233.9,-2.3)(236.7,-1.4)(238.4,-0.9)(239.5,-4.5)(241.2,-5.7)(243.4,-6.5)(245.0,-6.7)(246.7,-8.8)(250.0,-8.1)(251.7,-3.3)(253.9,-3.0)(256.7,-3.0)(257.8,-3.8)(258.9,-7.1)(260.6,-2.3)(262.3,-1.2)(263.9,0)(265.6,-3.3)(267.3,-3.1)(269.5,-2.0)(272.3,0)(273.9,0)(275.6,-0.5)(278.4,-1.7)(279.5,-2.0)(280.6,0)(281.7,-4.0)(283.4,-3.4)(285.0,-2.3)(286.2,-6.6)(287.3,-6.7)(288.9,-4.9)(292.3,-5.2)(293.9,-6.5)(295.6,-4.2)(297.3,-2.5)(300.0,0)(302.5,-2.0)(303.6,-2.3)(306.4,0)(307.5,-3.0)(309.1,-9.2)(310.2,-9.1)(311.4,-7.5)(313.0,-3.9)(314.1,-6.7)(315.2,-6.2)(315.8,-9.7)(316.9,-8.2)(319.7,-10.0)(320.8,-12.4)(321.9,-10.7)(323.0,-13.4)(324.1,-13.5)(326.9,-12.3)(328.0,-14.1)(329.1,-12.9)(331.1,-14.5)(334.1,-12.9)(336.4,-11.9)(337.5,-11.8)(338.6,-11.4)(340.8,-10.4)(342.5,-11.2)(344.7,-15.5)(346.9,-15.1)(349.1,-14.2)(350.2,-17.6)(351.9,-12.6)(354.1,-11.4)(355.8,-8.7)(359.1,-8.0)(361.4,-8.7)(363.6,-9.9)(365.2,-8.8)(368.6,-9.1)(370.2,-9.4)(371.4,-8.7)(371.9,-10.8)(376.9,-10.7)(378.0,-11.5)(379.1,-9.7)(381.4,-11.4)(384.1,-14.0)(386.4,-9.4)(387.9,-9.8)(390.2,-9.9)(392.5,-7.2)(393.6,-7.5)(395.2,-8.6)(396.9,-10.2)(398.8,-15.6)(400.4,-17.0)(401.0,-10.4)(403.8,-8.3)(404.9,-9.1)(406.0,-8.4)(408.2,-11.7)(412.1,-10.9)(412.7,-9.2)(414.3,-9.2)(414.9,-8.4)(418.2,-7.5)(419.9,-5.6)(420.4,-10.4)(422.1,-14.4)(424.9,-11.9)(426.0,-12.8)(427.1,-11.5)(428.2,-11.5)(429.3,-14.1)(432.7,-10.7)(434.3,-10.2)(436.0,-12.9)(437.7,-11.9)(439.3,-11.4)(441.6,-13.6)(442.7,-16.6)(445.4,-15.4)(447.1,-15.1)(448.2,-13.8)(448.8,-16.1)(450.4,-19.1)(452.7,-20.3)(453.8,-15.6)(456.0,-14.4)(460.4,-14.1)(462.1,-10.9)(463.2,-9.1)(466.6,-8.7)(467.1,-7.0)(468.2,-4.1)(470.4,-2.6)(473.8,-2.4)(474.9,-3.3)(476.0,-2.1)(476.9,-3.6)(478.2,0)(481.0,0)(481.6,-0.7)(483.2,-3.8)(484.3,-8.0)(486.0,-8.4)(488.2,-8.4)(489.1,-9.3)(490.4,-4.0)(492.7,-0.8)(494.9,0)(498.0,0)(499.1,-4.2)(501.9,-5.5)(503.0,-6.5)(504.1,-5.4)(506.3,-8.7)(510.2,-8.8)(511.3,-9.8)(512.4,-9.2)(513.5,-10.4)(515.2,-6.7)(516.3,-4.9)(517.4,-5.5)(518.5,-8.9)(519.1,-7.3)(520.2,-13.0)(523.0,-11.5)(524.6,-12.4)(525.2,-15.0)(526.3,-12.3)(529.6,-9.9)(531.3,-12.9)(533.0,-10.8)(534.6,-10.9)(536.9,-11.4)(538.5,-15.4)(540.2,-16.3)(541.3,-18.3)(544.1,-17.3)(545.2,-15.1)(547.4,-17.5)(551.3,-17.0)(553.0,-13.4)(554.1,-13.4)(554.6,-10.7)(556.3,-12.4)(558.0,-13.6)(559.1,-9.9)(560.2,-9.7)(561.9,-14.0)(565.2,-13.6)(567.4,-10.2)(569.6,-12.4)(573.0,-16.3)(574.1,-19.4)(574.6,-18.8)(576.3,-15.1)(579.1,-12.4)(580.7,-7.5)(582.9,-5.1)(585.2,-7.1)(586.3,-7.7)(588.0,-4.6)(589.6,-4.5)(593.0,-4.6)(594.1,-6.7)(595.2,-7.7)(596.3,-8.0)};
\addlegendentry{Nvidia}
\addplot[forget plot, only marks, mark=*, mark size=4.5pt, cMeta, line width=0pt] coordinates {(596.3,-30.9)};
\end{axis}
\end{tikzpicture}
\end{document}
